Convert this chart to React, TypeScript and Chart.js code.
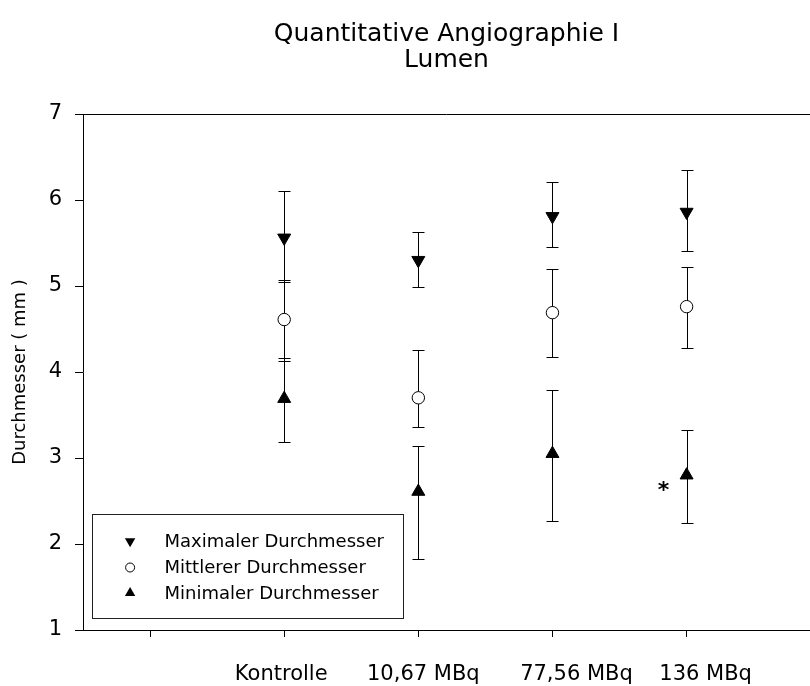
import React, { useEffect, useRef } from 'react';
import { Chart, registerables } from 'chart.js';

Chart.register(...registerables);

// ---- data ----
const CATEGORIES = ['Kontrolle', '10,67 MBq', '77,56 MBq', '136 MBq'];
const X_POSITIONS = [2, 3, 4, 5];
const X_TICKS = [1, 2, 3, 4, 5];
const Y_TICKS = [1, 2, 3, 4, 5, 6, 7];

const SERIES_NAMES = ['Maximaler Durchmesser', 'Mittlerer Durchmesser', 'Minimaler Durchmesser'];

const MAX_VALUES = [5.56, 5.3, 5.81, 5.86];
const MAX_LOW = [5.05, 4.99, 5.45, 5.41];
const MAX_HIGH = [6.1, 5.63, 6.21, 6.35];

const MEAN_VALUES = [4.61, 3.7, 4.69, 4.76];
const MEAN_LOW = [4.13, 3.36, 4.18, 4.28];
const MEAN_HIGH = [5.07, 4.26, 5.2, 5.22];

const MIN_VALUES = [3.69, 2.61, 3.05, 2.8];
const MIN_LOW = [3.19, 1.83, 2.27, 2.25];
const MIN_HIGH = [4.16, 3.14, 3.79, 3.33];

const SIGNIFICANT_MIN = [false, false, false, true];

// ---- style constants ----
const FONT = 'DejaVu Sans';
const LABEL_SHIFT_PX = [-3, 5, 24, 19];
const CAP_HALF = 6;

function drawTriangle(ctx: CanvasRenderingContext2D, x: number, y: number, r: number, down: boolean) {
  const s = down ? -1 : 1;
  ctx.beginPath();
  ctx.moveTo(x, y - s * r);
  ctx.lineTo(x + Math.sin((2 * Math.PI) / 3) * r, y + (s * r) / 2);
  ctx.lineTo(x - Math.sin((2 * Math.PI) / 3) * r, y + (s * r) / 2);
  ctx.closePath();
  ctx.fillStyle = '#000';
  ctx.fill();
}

const errorBarPlugin = {
  id: 'errorBars',
  beforeDatasetsDraw(chart: any) {
    const ctx = chart.ctx;
    const yScale = chart.scales.y;
    ctx.save();
    ctx.strokeStyle = '#000';
    ctx.lineWidth = 1;
    chart.data.datasets.forEach((ds: any, di: number) => {
      const meta = chart.getDatasetMeta(di);
      meta.data.forEach((pt: any, i: number) => {
        const x = Math.round(pt.x) + 0.5;
        const yl = Math.round(yScale.getPixelForValue(ds.errLow[i])) + 0.5;
        const yh = Math.round(yScale.getPixelForValue(ds.errHigh[i])) + 0.5;
        ctx.beginPath();
        ctx.moveTo(x, yl);
        ctx.lineTo(x, yh);
        ctx.moveTo(x - CAP_HALF, yl);
        ctx.lineTo(x + CAP_HALF, yl);
        ctx.moveTo(x - CAP_HALF, yh);
        ctx.lineTo(x + CAP_HALF, yh);
        ctx.stroke();
      });
    });
    ctx.restore();
  },
};

const decorPlugin = {
  id: 'decor',
  afterDraw(chart: any) {
    const ctx = chart.ctx;
    const area = chart.chartArea;
    const xScale = chart.scales.x;
    ctx.save();

    // top frame line
    ctx.strokeStyle = '#000';
    ctx.lineWidth = 1;
    ctx.beginPath();
    ctx.moveTo(area.left, Math.round(area.top) + 0.5);
    ctx.lineTo(area.right, Math.round(area.top) + 0.5);
    ctx.stroke();

    // category labels under the axis
    ctx.fillStyle = '#000';
    ctx.font = `21px "${FONT}"`;
    ctx.textAlign = 'center';
    ctx.textBaseline = 'alphabetic';
    CATEGORIES.forEach((c, i) => {
      const x = xScale.getPixelForValue(X_POSITIONS[i]) + LABEL_SHIFT_PX[i];
      ctx.fillText(c, x, area.bottom + 50);
    });

    // significance asterisk
    const minMeta = chart.getDatasetMeta(2);
    ctx.font = `bold 22px "${FONT}"`;
    SIGNIFICANT_MIN.forEach((s, i) => {
      if (!s) return;
      const p = minMeta.data[i];
      ctx.fillText('*', p.x - 23, p.y + 22);
    });

    // legend box
    const bx = Math.round(area.left + 9) + 0.5;
    const bw = 311;
    const bh = 104;
    const by = Math.round(area.bottom - 12 - bh) + 0.5;
    ctx.fillStyle = '#fff';
    ctx.fillRect(bx, by, bw, bh);
    ctx.strokeStyle = '#222';
    ctx.lineWidth = 1;
    ctx.strokeRect(bx, by, bw, bh);
    const rows = [26.7, 53, 78.4];
    const mx = bx + 37.6;
    ctx.font = `18px "${FONT}"`;
    ctx.textAlign = 'left';
    ctx.textBaseline = 'middle';
    chart.data.datasets.forEach((ds: any, di: number) => {
      const y = by + rows[di];
      if (di === 0) drawTriangle(ctx, mx, y, 6, true);
      else if (di === 2) drawTriangle(ctx, mx, y, 6, false);
      else {
        ctx.beginPath();
        ctx.arc(mx, y, 4.5, 0, Math.PI * 2);
        ctx.fillStyle = '#fff';
        ctx.fill();
        ctx.strokeStyle = '#000';
        ctx.stroke();
      }
      ctx.fillStyle = '#000';
      ctx.fillText(ds.label, bx + 72, y + 1);
    });

    ctx.restore();
  },
};

export default function App() {
  const ref = useRef<HTMLCanvasElement>(null);

  useEffect(() => {
    if (!ref.current) return;
    Chart.defaults.font.family = FONT;
    Chart.defaults.color = '#000';

    const mk = (vals: number[]) => X_POSITIONS.map((x, i) => ({ x, y: vals[i] }));

    const chart = new Chart(ref.current, {
      type: 'scatter',
      data: {
        datasets: [
          {
            label: SERIES_NAMES[0],
            data: mk(MAX_VALUES),
            errLow: MAX_LOW,
            errHigh: MAX_HIGH,
            pointStyle: 'triangle',
            pointRotation: 180,
            pointRadius: 7.5,
            pointBackgroundColor: '#000',
            pointBorderColor: '#000',
            pointBorderWidth: 1,
            showLine: false,
          } as any,
          {
            label: SERIES_NAMES[1],
            data: mk(MEAN_VALUES),
            errLow: MEAN_LOW,
            errHigh: MEAN_HIGH,
            pointStyle: 'circle',
            pointRadius: 6.2,
            pointBackgroundColor: '#fff',
            pointBorderColor: '#000',
            pointBorderWidth: 1,
            showLine: false,
          } as any,
          {
            label: SERIES_NAMES[2],
            data: mk(MIN_VALUES),
            errLow: MIN_LOW,
            errHigh: MIN_HIGH,
            pointStyle: 'triangle',
            pointRotation: 0,
            pointRadius: 7.5,
            pointBackgroundColor: '#000',
            pointBorderColor: '#000',
            pointBorderWidth: 1,
            showLine: false,
          } as any,
        ],
      },
      options: {
        responsive: false,
        animation: false,
        events: [],
        layout: { padding: 0, autoPadding: false },
        plugins: {
          legend: { display: false },
          tooltip: { enabled: false },
          title: {
            display: true,
            text: ['Quantitative Angiographie I', 'Lumen'],
            color: '#000',
            fullSize: false,
            font: { family: FONT, size: 25, weight: 'normal', lineHeight: 1.06 },
            padding: { top: 20.75, bottom: 40.25 },
          },
        },
        scales: {
          x: {
            type: 'linear',
            min: 0.5,
            max: 5.92,
            afterBuildTicks: (scale: any) => {
              scale.ticks = X_TICKS.map((v) => ({ value: v }));
            },
            afterFit: (scale: any) => {
              scale.height = 56;
            },
            ticks: { display: false },
            grid: {
              display: true,
              drawOnChartArea: false,
              drawTicks: true,
              tickLength: 7,
              color: '#000',
              lineWidth: 1,
            },
            border: { display: true, color: '#000', width: 1 },
          },
          y: {
            type: 'linear',
            min: 1,
            max: 7,
            afterBuildTicks: (scale: any) => {
              scale.ticks = Y_TICKS.map((v) => ({ value: v }));
            },
            afterFit: (scale: any) => {
              scale.width = 83;
            },
            ticks: {
              color: '#000',
              padding: 13,
              font: { family: FONT, size: 21 },
            },
            grid: {
              display: true,
              drawOnChartArea: false,
              drawTicks: true,
              tickLength: 8,
              color: '#000',
              lineWidth: 1,
            },
            border: { display: true, color: '#000', width: 1 },
            title: {
              display: true,
              text: 'Durchmesser ( mm )',
              color: '#000',
              font: { family: FONT, size: 18 },
              padding: { top: 10, bottom: 0 },
            },
          },
        },
      } as any,
      plugins: [errorBarPlugin, decorPlugin],
    });

    return () => chart.destroy();
  }, []);

  return (
    <div style={{ position: 'absolute', left: 0, top: 0, width: 810, height: 686, background: '#fff' }}>
      <canvas ref={ref} width={810} height={686} style={{ display: 'block', width: 810, height: 686 }} />
    </div>
  );
}
